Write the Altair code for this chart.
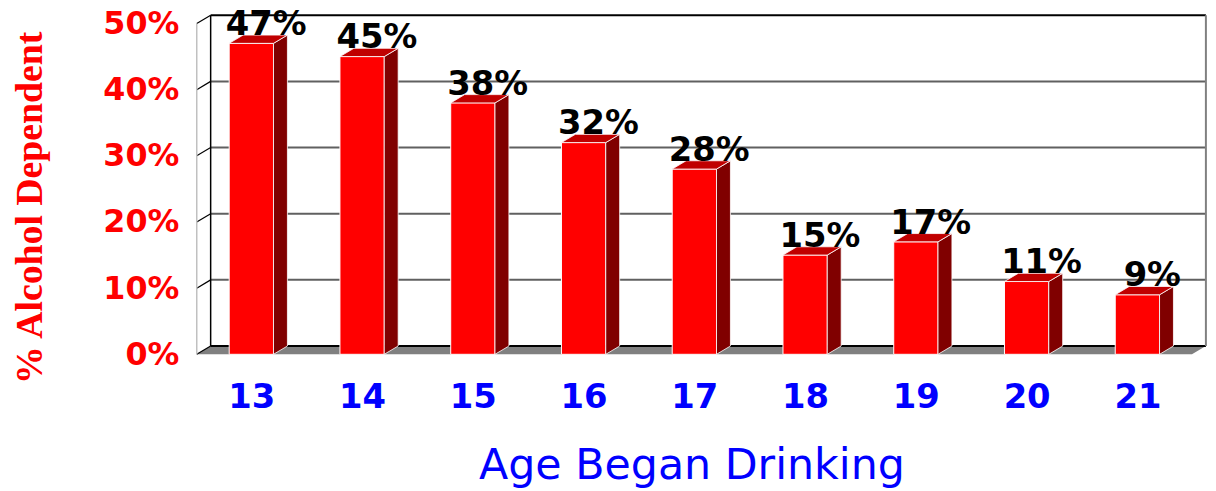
import altair as alt
import pandas as pd

# ---- data ----
ages = ["13", "14", "15", "16", "17", "18", "19", "20", "21"]
pct = [47, 45, 38, 32, 28, 15, 17, 11, 9]
y_ticks = [0, 10, 20, 30, 40, 50]

# ---- geometry (data units of the scales) ----
X0 = -0.493          # front-left corner of the 3D box
FLOOR_END = 8.493    # front-right end of the floor
HALF = 0.2           # half bar width
DX = 0.1256          # depth offset, x
DY = 1.25            # depth offset, y
X_MAX = FLOOR_END + DX + 0.01
Y_MAX = 51.2
W, H = 1017, 341

xs = alt.Scale(domain=[X0, X_MAX], nice=False, zero=False)
ys = alt.Scale(domain=[0, Y_MAX], nice=False, zero=False)

age_expr = "[" + ",".join(f"'{a}'" for a in ages) + "][datum.value]"

AX_X = alt.Axis(
    values=list(range(len(ages))), labelExpr=age_expr,
    domain=False, ticks=False, grid=False, labelFlush=False, labelOverlap=False,
    labelFont="DejaVu Sans", labelFontWeight="bold", labelFontSize=34,
    labelColor="#0000FF", labelPadding=27,
    title="Age Began Drinking", titleFont="DejaVu Sans", titleFontWeight="normal",
    titleFontSize=43, titleColor="#0000FF", titleX=498, titleY=125,
    titleBaseline="alphabetic", titleAlign="center",
)
AX_Y = alt.Axis(
    values=y_ticks, labelExpr="datum.value + '%'",
    domain=False, ticks=False, grid=False, labelFlush=False, labelOverlap=False,
    labelFont="DejaVu Sans", labelFontWeight="bold", labelFontSize=32,
    labelColor="#FF0000", labelPadding=18,
    title="% Alcohol Dependent", titleFont="Liberation Serif", titleFontWeight="bold",
    titleFontSize=38, titleColor="#FF0000", titleX=-156, titleY=193,
    titleBaseline="alphabetic", titleAlign="center", titleAngle=270,
)


def X(f):
    return alt.X(f, scale=xs, axis=AX_X)


def Y(f):
    return alt.Y(f, scale=ys, axis=AX_Y)


bars = pd.DataFrame({
    "i": list(range(len(ages))),
    "age": ages,
    "v": pct,
})
bars["xl"] = bars["i"] - HALF
bars["xr"] = bars["i"] + HALF
bars["vt"] = bars["v"] + DY
bars["label"] = [f"{v}%" for v in pct]
bars["zero"] = 0

side_rows, top_rows = [], []
for i, v in zip(bars["i"], pct):
    side_rows.append({"bar": i, "x": i + HALF, "y0": 0, "y1": v})
    side_rows.append({"bar": i, "x": i + HALF + DX, "y0": DY, "y1": v + DY})
    top_rows.append({"bar": i, "y": v, "xa": i - HALF, "xb": i + HALF})
    top_rows.append({"bar": i, "y": v + DY, "xa": i - HALF + DX, "xb": i + HALF + DX})
side = pd.DataFrame(side_rows)
top = pd.DataFrame(top_rows)

floor = pd.DataFrame([
    {"y": 0, "xa": X0, "xb": FLOOR_END},
    {"y": DY, "xa": X0 + DX, "xb": FLOOR_END + DX},
])

slants = pd.DataFrame({"x": [X0] * len(y_ticks), "x2": [X0 + DX] * len(y_ticks),
                       "y": y_ticks, "y2": [t + DY for t in y_ticks]})
grid_mid = pd.DataFrame({"x": [X0 + DX] * 4, "x2": [FLOOR_END + DX] * 4,
                         "y": [t + DY for t in y_ticks[1:-1]]})
grid_edge = pd.DataFrame({"x": [X0 + DX] * 2, "x2": [FLOOR_END + DX] * 2,
                          "y": [y_ticks[0] + DY, y_ticks[-1] + DY]})
back_left = pd.DataFrame({"x": [X0 + DX], "y": [DY], "y2": [y_ticks[-1] + DY]})
back_right = pd.DataFrame({"x": [FLOOR_END + DX], "y": [DY], "y2": [y_ticks[-1] + DY]})
front_axis = pd.DataFrame({"x": [X0], "y": [0], "y2": [y_ticks[-1]]})

# ---- layers ----
floor_l = alt.Chart(floor).mark_area(orient="horizontal", color="#808080").encode(
    y=Y("y:Q"), x=X("xa:Q"), x2="xb:Q",
)
grid_mid_l = alt.Chart(grid_mid).mark_rule(color="#606060", strokeWidth=2).encode(
    x=X("x:Q"), x2="x2:Q", y=Y("y:Q"),
)
grid_edge_l = alt.Chart(grid_edge).mark_rule(color="#000000", strokeWidth=2).encode(
    x=X("x:Q"), x2="x2:Q", y=Y("y:Q"),
)
slants_l = alt.Chart(slants).mark_rule(color="#000000", strokeWidth=1.2).encode(
    x=X("x:Q"), x2="x2:Q", y=Y("y:Q"), y2="y2:Q",
)
back_left_l = alt.Chart(back_left).mark_rule(color="#000000", strokeWidth=1.5).encode(
    x=X("x:Q"), y=Y("y:Q"), y2="y2:Q",
)
back_right_l = alt.Chart(back_right).mark_rule(color="#808080", strokeWidth=2).encode(
    x=X("x:Q"), y=Y("y:Q"), y2="y2:Q",
)
front_axis_l = alt.Chart(front_axis).mark_rule(color="#C0C0C0", strokeWidth=1.5).encode(
    x=X("x:Q"), y=Y("y:Q"), y2="y2:Q",
)
front_l = alt.Chart(bars).mark_rect(color="#FF0000", stroke="#FFFFFF", strokeWidth=1).encode(
    x=X("xl:Q"), x2="xr:Q", y=Y("zero:Q"), y2="v:Q",
)
side_l = alt.Chart(side).mark_area(orient="vertical", color="#800000", stroke="#FFFFFF",
                                   strokeWidth=0.8).encode(
    x=X("x:Q"), y=Y("y0:Q"), y2="y1:Q", detail="bar:N",
)
top_l = alt.Chart(top).mark_area(orient="horizontal", color="#C00000", stroke="#FFFFFF",
                                 strokeWidth=0.8).encode(
    y=Y("y:Q"), x=X("xa:Q"), x2="xb:Q", detail="bar:N",
)
labels_l = alt.Chart(bars).mark_text(font="DejaVu Sans", fontWeight="bold", fontSize=34,
                                     color="#000000", baseline="alphabetic", align="center",
                                     dx=15).encode(
    x=X("i:Q"), y=Y("vt:Q"), text="label:N",
)

chart = alt.layer(
    floor_l, grid_mid_l, grid_edge_l, back_left_l, back_right_l, slants_l, front_axis_l,
    front_l, side_l, top_l, labels_l,
).properties(
    width=W, height=H,
    autosize=alt.AutoSizeParams(type="none"),
    padding={"left": 190, "top": 6, "right": 1, "bottom": 135},
    background="#FFFFFF",
).configure_view(stroke=None)

chart.save("out.html", embed_options={"renderer": "svg", "actions": False})
